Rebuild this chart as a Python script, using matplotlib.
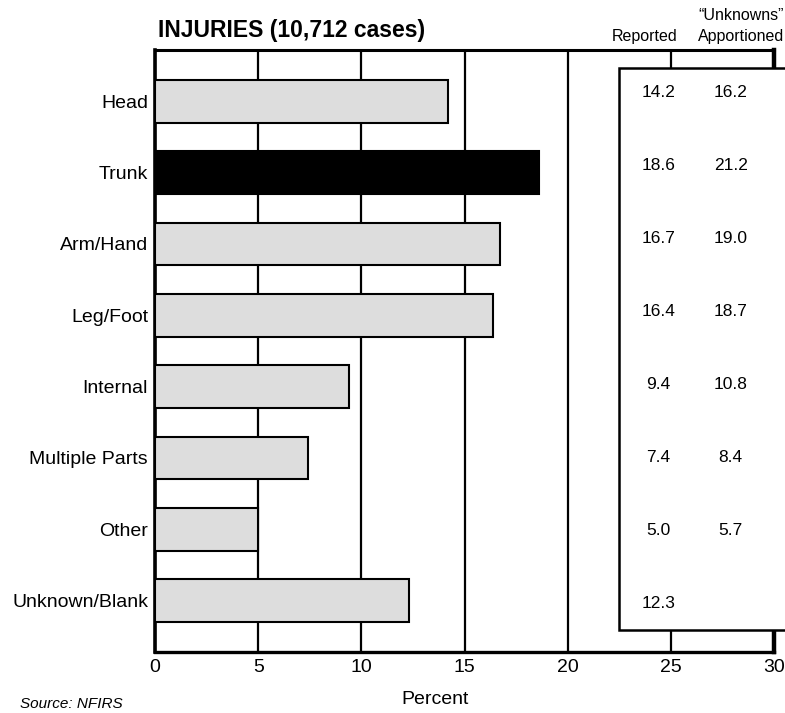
import matplotlib
matplotlib.use("Agg")
import matplotlib.pyplot as plt
from matplotlib.patches import Rectangle

plt.rcParams["font.family"] = ["Liberation Sans", "DejaVu Sans"]

# ---- data ---------------------------------------------------------------------
categories = ["Head", "Trunk", "Arm/Hand", "Leg/Foot", "Internal",
              "Multiple Parts", "Other", "Unknown/Blank"]
reported = [14.2, 18.6, 16.7, 16.4, 9.4, 7.4, 5.0, 12.3]
apportioned = [16.2, 21.2, 19.0, 18.7, 10.8, 8.4, 5.7, None]
highlight = "Trunk"
xticks = [0, 5, 10, 15, 20, 25, 30]

# ---- plot ---------------------------------------------------------------------
fig = plt.figure(figsize=(7.85, 7.13), dpi=100)
ax = fig.add_axes([0.1975, 0.0856, 0.7885, 0.8443])

y = list(range(len(categories)))
colors = ["black" if c == highlight else "#dddddd" for c in categories]
ax.barh(y, reported, height=0.6, color=colors, edgecolor="black",
        linewidth=1.5, zorder=3)

ax.set_xlim(0, 30)
ax.set_ylim(7.72, -0.72)
ax.set_yticks(y)
ax.set_yticklabels(categories, fontsize=14)
ax.set_xticks(xticks)
ax.set_xticklabels([str(t) for t in xticks], fontsize=14)
ax.tick_params(length=0, pad=5)
ax.grid(axis="x", color="black", linewidth=1.6, zorder=1)
ax.set_axisbelow(True)

for side, lw in [("left", 2.6), ("bottom", 2.4), ("top", 2.2), ("right", 3.2)]:
    ax.spines[side].set_linewidth(lw)

# table box on the right
box = Rectangle((22.5, -0.47), 9.0, 7.88, facecolor="white", edgecolor="black",
                linewidth=1.8, zorder=4, clip_on=False)
ax.add_patch(box)

# table rows are spaced a little wider than the bars
row_step = 1.024
row_shift = -0.13
for i, (r, a) in enumerate(zip(reported, apportioned)):
    ty = i * row_step + row_shift
    ax.text(24.4, ty, f"{r:.1f}", ha="center", va="center", fontsize=12.5, zorder=5)
    if a is not None:
        ax.text(27.9, ty, f"{a:.1f}", ha="center", va="center", fontsize=12.5, zorder=5)

ax.text(23.75, -0.915, "Reported", ha="center", va="center", fontsize=11.5,
        clip_on=False)
ax.text(28.4, -0.915, "Apportioned", ha="center", va="center", fontsize=11.5,
        clip_on=False)
ax.text(28.4, -1.21, "\u201cUnknowns\u201d", ha="center", va="center", fontsize=11.5,
        clip_on=False)

fig.text(158 / 785, 1 - 31 / 713, "INJURIES (10,712 cases)", ha="left",
         va="center", fontsize=16.5, fontweight="bold")
fig.text(435 / 785, 1 - 700 / 713, "Percent", ha="center", va="center",
         fontsize=14)
fig.text(20 / 785, 1 - 704 / 713, "Source: NFIRS", ha="left", va="center",
         fontsize=11, style="italic")

fig.savefig("out.png", dpi=100)
